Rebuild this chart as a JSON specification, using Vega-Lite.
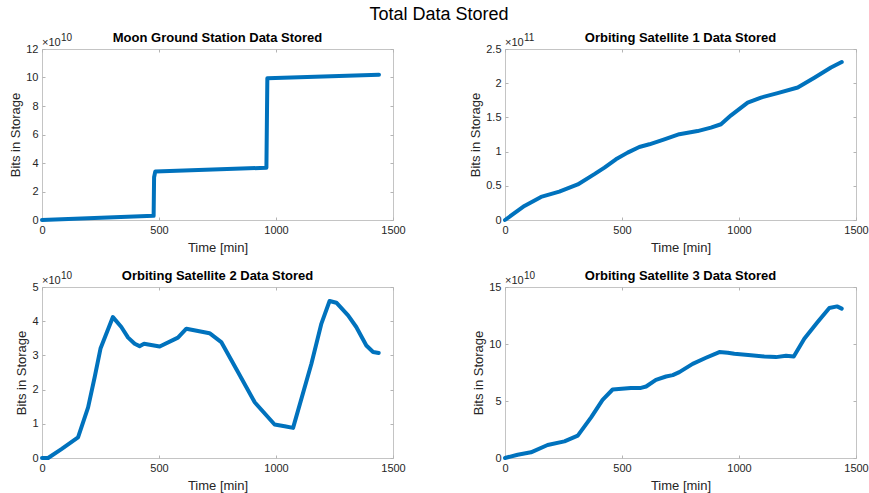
{
  "$schema": "https://vega.github.io/schema/vega-lite/v6.json",
  "background": "white",
  "padding": {"left": 9, "top": 5, "right": 5, "bottom": 2},
  "title": {"text": "Total Data Stored", "font": "Liberation Sans", "fontSize": 18, "fontWeight": "normal", "color": "#000000", "anchor": "middle", "offset": 8},
  "datasets": {
    "moon": [
      {"t": 0, "bits": 0}, {"t": 477, "bits": 2.9e9}, {"t": 479, "bits": 3.0e10}, {"t": 484, "bits": 3.4e10},
      {"t": 959, "bits": 3.67e10}, {"t": 963, "bits": 9.95e10}, {"t": 1440, "bits": 1.02e11}
    ],
    "sat1": [
      {"t": 0, "bits": 0}, {"t": 83, "bits": 2.05e10}, {"t": 154, "bits": 3.37e10}, {"t": 232, "bits": 4.15e10},
      {"t": 311, "bits": 5.2e10}, {"t": 382, "bits": 6.7e10}, {"t": 425, "bits": 7.66e10}, {"t": 474, "bits": 8.88e10},
      {"t": 524, "bits": 9.85e10}, {"t": 574, "bits": 1.068e11}, {"t": 617, "bits": 1.107e11}, {"t": 681, "bits": 1.18e11},
      {"t": 745, "bits": 1.254e11}, {"t": 823, "bits": 1.3e11}, {"t": 880, "bits": 1.35e11}, {"t": 923, "bits": 1.4e11},
      {"t": 966, "bits": 1.53e11}, {"t": 1037, "bits": 1.717e11}, {"t": 1094, "bits": 1.79e11}, {"t": 1165, "bits": 1.854e11},
      {"t": 1251, "bits": 1.937e11}, {"t": 1322, "bits": 2.08e11}, {"t": 1393, "bits": 2.23e11}, {"t": 1439, "bits": 2.31e11}
    ],
    "sat2": [
      {"t": 0, "bits": 0}, {"t": 26, "bits": 0}, {"t": 83, "bits": 2.6e9}, {"t": 154, "bits": 6.0e9},
      {"t": 197, "bits": 1.48e10}, {"t": 225, "bits": 2.36e10}, {"t": 250, "bits": 3.2e10}, {"t": 303, "bits": 4.12e10},
      {"t": 339, "bits": 3.83e10}, {"t": 368, "bits": 3.52e10}, {"t": 396, "bits": 3.34e10}, {"t": 417, "bits": 3.27e10},
      {"t": 436, "bits": 3.34e10}, {"t": 503, "bits": 3.26e10}, {"t": 581, "bits": 3.52e10}, {"t": 617, "bits": 3.78e10},
      {"t": 716, "bits": 3.65e10}, {"t": 766, "bits": 3.39e10}, {"t": 838, "bits": 2.51e10}, {"t": 909, "bits": 1.63e10},
      {"t": 994, "bits": 9.8e9}, {"t": 1037, "bits": 9.3e9}, {"t": 1073, "bits": 8.8e9}, {"t": 1151, "bits": 2.75e10},
      {"t": 1194, "bits": 3.93e10}, {"t": 1229, "bits": 4.59e10}, {"t": 1258, "bits": 4.54e10}, {"t": 1308, "bits": 4.17e10},
      {"t": 1343, "bits": 3.83e10}, {"t": 1386, "bits": 3.29e10}, {"t": 1415, "bits": 3.1e10}, {"t": 1439, "bits": 3.07e10}
    ],
    "sat3": [
      {"t": 0, "bits": 0}, {"t": 54, "bits": 2.9e9}, {"t": 111, "bits": 5.0e9}, {"t": 182, "bits": 1.14e10},
      {"t": 254, "bits": 1.46e10}, {"t": 311, "bits": 1.96e10}, {"t": 368, "bits": 3.57e10}, {"t": 417, "bits": 5.1e10},
      {"t": 460, "bits": 6.01e10}, {"t": 538, "bits": 6.15e10}, {"t": 581, "bits": 6.15e10}, {"t": 603, "bits": 6.27e10},
      {"t": 645, "bits": 6.86e10}, {"t": 688, "bits": 7.15e10}, {"t": 717, "bits": 7.27e10}, {"t": 745, "bits": 7.53e10},
      {"t": 802, "bits": 8.26e10}, {"t": 859, "bits": 8.79e10}, {"t": 916, "bits": 9.29e10}, {"t": 952, "bits": 9.23e10},
      {"t": 980, "bits": 9.14e10}, {"t": 1051, "bits": 9.02e10}, {"t": 1108, "bits": 8.91e10}, {"t": 1158, "bits": 8.85e10},
      {"t": 1201, "bits": 8.97e10}, {"t": 1234, "bits": 8.91e10}, {"t": 1279, "bits": 1.046e11}, {"t": 1336, "bits": 1.192e11},
      {"t": 1386, "bits": 1.316e11}, {"t": 1419, "bits": 1.33e11}, {"t": 1439, "bits": 1.31e11}
    ],
    "blank": [{}]
  },
  "columns": 2,
  "spacing": {"row": 67, "column": 112},
  "bounds": "flush",
  "concat": [
    {
      "width": 351, "height": 171,
      "title": {"text": "Moon Ground Station Data Stored", "font": "Liberation Sans", "fontSize": 13, "fontWeight": "bold", "color": "#000000", "offset": -12},
      "layer": [
        {
          "data": {"name": "moon"},
          "mark": {"type": "line", "color": "#0072BD", "strokeWidth": 4, "strokeJoin": "round", "strokeCap": "round"},
          "encoding": {
            "x": {"field": "t", "type": "quantitative", "scale": {"domain": [0, 1500], "nice": false},
                  "axis": {"orient": "bottom", "values": [0, 500, 1000, 1500], "format": "d", "title": "Time [min]"}},
            "y": {"field": "bits", "type": "quantitative", "scale": {"domain": [0, 1.2e11], "nice": false},
                  "axis": {"orient": "left", "values": [0, 2e10, 4e10, 6e10, 8e10, 1e11, 1.2e11], "labelExpr": "format(datum.value/1e10, '~g')", "title": "Bits in Storage"}}
          }
        },
        {
          "data": {"name": "moon"},
          "mark": {"type": "line", "opacity": 0},
          "encoding": {
            "x": {"field": "t", "type": "quantitative", "axis": {"orient": "top", "values": [0, 500, 1000, 1500], "labels": false, "title": null}},
            "y": {"field": "bits", "type": "quantitative", "axis": {"orient": "right", "values": [0, 2e10, 4e10, 6e10, 8e10, 1e11, 1.2e11], "labels": false, "title": null}}
          }
        },
        {
          "data": {"name": "blank"},
          "mark": {"type": "text", "text": "×10", "align": "left", "baseline": "alphabetic", "dy": -3, "font": "Liberation Sans", "fontSize": 11, "color": "#262626"},
          "encoding": {"x": {"datum": 0, "type": "quantitative", "axis": null}, "y": {"datum": 1.2e11, "type": "quantitative", "axis": null}}
        },
        {
          "data": {"name": "blank"},
          "mark": {"type": "text", "text": "10", "align": "left", "baseline": "alphabetic", "dx": 19, "dy": -8, "font": "Liberation Sans", "fontSize": 10, "color": "#262626"},
          "encoding": {"x": {"datum": 0, "type": "quantitative", "axis": null}, "y": {"datum": 1.2e11, "type": "quantitative", "axis": null}}
        }
      ],
      "resolve": {"axis": {"x": "independent", "y": "independent"}}
    },
    {
      "width": 351, "height": 171,
      "title": {"text": "Orbiting Satellite 1 Data Stored", "font": "Liberation Sans", "fontSize": 13, "fontWeight": "bold", "color": "#000000", "offset": -12},
      "layer": [
        {
          "data": {"name": "sat1"},
          "mark": {"type": "line", "color": "#0072BD", "strokeWidth": 4, "strokeJoin": "round", "strokeCap": "round"},
          "encoding": {
            "x": {"field": "t", "type": "quantitative", "scale": {"domain": [0, 1500], "nice": false},
                  "axis": {"orient": "bottom", "values": [0, 500, 1000, 1500], "format": "d", "title": "Time [min]"}},
            "y": {"field": "bits", "type": "quantitative", "scale": {"domain": [0, 2.5e11], "nice": false},
                  "axis": {"orient": "left", "values": [0, 5e10, 1e11, 1.5e11, 2e11, 2.5e11], "labelExpr": "format(datum.value/1e11, '~g')", "title": "Bits in Storage"}}
          }
        },
        {
          "data": {"name": "sat1"},
          "mark": {"type": "line", "opacity": 0},
          "encoding": {
            "x": {"field": "t", "type": "quantitative", "axis": {"orient": "top", "values": [0, 500, 1000, 1500], "labels": false, "title": null}},
            "y": {"field": "bits", "type": "quantitative", "axis": {"orient": "right", "values": [0, 5e10, 1e11, 1.5e11, 2e11, 2.5e11], "labels": false, "title": null}}
          }
        },
        {
          "data": {"name": "blank"},
          "mark": {"type": "text", "text": "×10", "align": "left", "baseline": "alphabetic", "dy": -3, "font": "Liberation Sans", "fontSize": 11, "color": "#262626"},
          "encoding": {"x": {"datum": 0, "type": "quantitative", "axis": null}, "y": {"datum": 2.5e11, "type": "quantitative", "axis": null}}
        },
        {
          "data": {"name": "blank"},
          "mark": {"type": "text", "text": "11", "align": "left", "baseline": "alphabetic", "dx": 19, "dy": -8, "font": "Liberation Sans", "fontSize": 10, "color": "#262626"},
          "encoding": {"x": {"datum": 0, "type": "quantitative", "axis": null}, "y": {"datum": 2.5e11, "type": "quantitative", "axis": null}}
        }
      ],
      "resolve": {"axis": {"x": "independent", "y": "independent"}}
    },
    {
      "width": 351, "height": 171,
      "title": {"text": "Orbiting Satellite 2 Data Stored", "font": "Liberation Sans", "fontSize": 13, "fontWeight": "bold", "color": "#000000", "offset": -12},
      "layer": [
        {
          "data": {"name": "sat2"},
          "mark": {"type": "line", "color": "#0072BD", "strokeWidth": 4, "strokeJoin": "round", "strokeCap": "round"},
          "encoding": {
            "x": {"field": "t", "type": "quantitative", "scale": {"domain": [0, 1500], "nice": false},
                  "axis": {"orient": "bottom", "values": [0, 500, 1000, 1500], "format": "d", "title": "Time [min]"}},
            "y": {"field": "bits", "type": "quantitative", "scale": {"domain": [0, 5e10], "nice": false},
                  "axis": {"orient": "left", "values": [0, 1e10, 2e10, 3e10, 4e10, 5e10], "labelExpr": "format(datum.value/1e10, '~g')", "title": "Bits in Storage"}}
          }
        },
        {
          "data": {"name": "sat2"},
          "mark": {"type": "line", "opacity": 0},
          "encoding": {
            "x": {"field": "t", "type": "quantitative", "axis": {"orient": "top", "values": [0, 500, 1000, 1500], "labels": false, "title": null}},
            "y": {"field": "bits", "type": "quantitative", "axis": {"orient": "right", "values": [0, 1e10, 2e10, 3e10, 4e10, 5e10], "labels": false, "title": null}}
          }
        },
        {
          "data": {"name": "blank"},
          "mark": {"type": "text", "text": "×10", "align": "left", "baseline": "alphabetic", "dy": -3, "font": "Liberation Sans", "fontSize": 11, "color": "#262626"},
          "encoding": {"x": {"datum": 0, "type": "quantitative", "axis": null}, "y": {"datum": 5e10, "type": "quantitative", "axis": null}}
        },
        {
          "data": {"name": "blank"},
          "mark": {"type": "text", "text": "10", "align": "left", "baseline": "alphabetic", "dx": 19, "dy": -8, "font": "Liberation Sans", "fontSize": 10, "color": "#262626"},
          "encoding": {"x": {"datum": 0, "type": "quantitative", "axis": null}, "y": {"datum": 5e10, "type": "quantitative", "axis": null}}
        }
      ],
      "resolve": {"axis": {"x": "independent", "y": "independent"}}
    },
    {
      "width": 351, "height": 171,
      "title": {"text": "Orbiting Satellite 3 Data Stored", "font": "Liberation Sans", "fontSize": 13, "fontWeight": "bold", "color": "#000000", "offset": -12},
      "layer": [
        {
          "data": {"name": "sat3"},
          "mark": {"type": "line", "color": "#0072BD", "strokeWidth": 4, "strokeJoin": "round", "strokeCap": "round"},
          "encoding": {
            "x": {"field": "t", "type": "quantitative", "scale": {"domain": [0, 1500], "nice": false},
                  "axis": {"orient": "bottom", "values": [0, 500, 1000, 1500], "format": "d", "title": "Time [min]"}},
            "y": {"field": "bits", "type": "quantitative", "scale": {"domain": [0, 1.5e11], "nice": false},
                  "axis": {"orient": "left", "values": [0, 5e10, 1e11, 1.5e11], "labelExpr": "format(datum.value/1e10, '~g')", "title": "Bits in Storage"}}
          }
        },
        {
          "data": {"name": "sat3"},
          "mark": {"type": "line", "opacity": 0},
          "encoding": {
            "x": {"field": "t", "type": "quantitative", "axis": {"orient": "top", "values": [0, 500, 1000, 1500], "labels": false, "title": null}},
            "y": {"field": "bits", "type": "quantitative", "axis": {"orient": "right", "values": [0, 5e10, 1e11, 1.5e11], "labels": false, "title": null}}
          }
        },
        {
          "data": {"name": "blank"},
          "mark": {"type": "text", "text": "×10", "align": "left", "baseline": "alphabetic", "dy": -3, "font": "Liberation Sans", "fontSize": 11, "color": "#262626"},
          "encoding": {"x": {"datum": 0, "type": "quantitative", "axis": null}, "y": {"datum": 1.5e11, "type": "quantitative", "axis": null}}
        },
        {
          "data": {"name": "blank"},
          "mark": {"type": "text", "text": "10", "align": "left", "baseline": "alphabetic", "dx": 19, "dy": -8, "font": "Liberation Sans", "fontSize": 10, "color": "#262626"},
          "encoding": {"x": {"datum": 0, "type": "quantitative", "axis": null}, "y": {"datum": 1.5e11, "type": "quantitative", "axis": null}}
        }
      ],
      "resolve": {"axis": {"x": "independent", "y": "independent"}}
    }
  ],
  "config": {
    "font": "Liberation Sans",
    "view": {"stroke": "#c4c4c4", "strokeWidth": 1},
    "axis": {
      "domain": false, "grid": false, "ticks": true, "tickSize": -3, "tickColor": "#b4b4b4",
      "labelFont": "Liberation Sans", "labelFontSize": 11, "labelColor": "#262626", "labelPadding": 7,
      "labelFlush": false, "labelOverlap": false,
      "titleFont": "Liberation Sans", "titleFontSize": 13, "titleFontWeight": "normal", "titleColor": "#262626", "titlePadding": 3
    },
    "axisX": {"titlePadding": 6}
  }
}
